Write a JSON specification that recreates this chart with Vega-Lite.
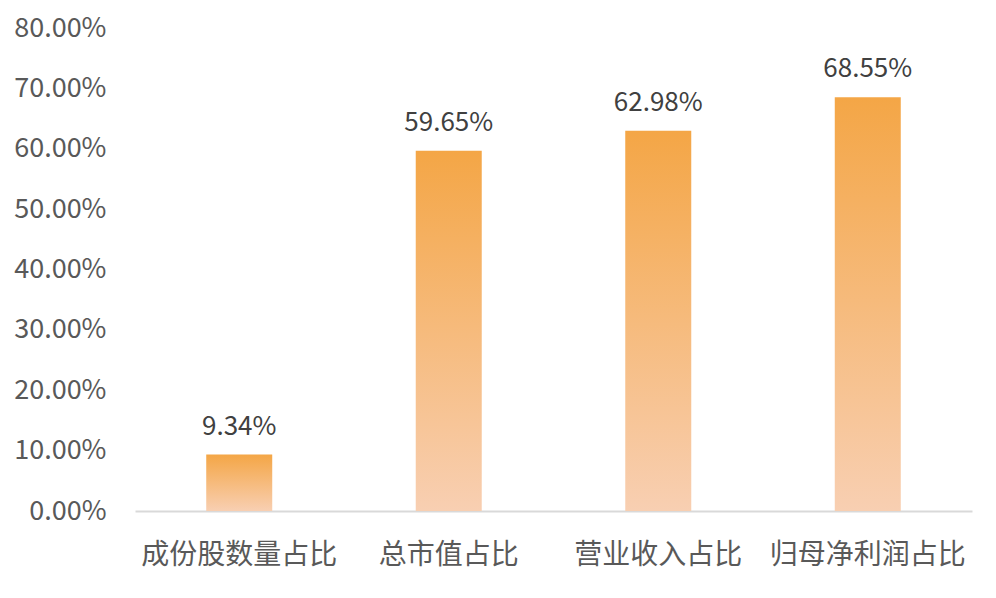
{
  "$schema": "https://vega.github.io/schema/vega-lite/v6.json",
  "width": 837,
  "height": 483,
  "autosize": {"type": "none"},
  "padding": {"left": 135, "top": 28, "right": 24, "bottom": 87},
  "background": "white",
  "data": {
    "values": [
      {"category": "成份股数量占比", "share": 0.0934},
      {"category": "总市值占比", "share": 0.5965},
      {"category": "营业收入占比", "share": 0.6298},
      {"category": "归母净利润占比", "share": 0.6855}
    ]
  },
  "encoding": {
    "x": {
      "field": "category",
      "type": "nominal",
      "sort": null,
      "title": null,
      "scale": {"paddingInner": 0.685, "paddingOuter": 0.34},
      "axis": {
        "labelAngle": 0,
        "labelFont": "Noto Sans CJK SC",
        "labelFontSize": 28,
        "labelColor": "#595959",
        "labelPadding": 30,
        "labelLimit": 0,
        "labelOverlap": false,
        "ticks": false,
        "domainColor": "#D9D9D9",
        "domainWidth": 2
      }
    },
    "y": {
      "field": "share",
      "type": "quantitative",
      "title": null,
      "scale": {"domain": [0, 0.8]},
      "axis": {
        "format": ".2%",
        "values": [0, 0.1, 0.2, 0.3, 0.4, 0.5, 0.6, 0.7, 0.8],
        "labelFont": "Noto Sans CJK SC",
        "labelFontSize": 27,
        "labelColor": "#595959",
        "labelPadding": 29,
        "labelOverlap": false,
        "labelBound": false,
        "ticks": false,
        "domain": false,
        "grid": false
      }
    }
  },
  "layer": [
    {
      "mark": {
        "type": "bar",
        "color": {
          "gradient": "linear",
          "x1": 0, "y1": 0, "x2": 0, "y2": 1,
          "stops": [
            {"offset": 0, "color": "#F4A646"},
            {"offset": 1, "color": "#F8CFB2"}
          ]
        }
      }
    },
    {
      "mark": {
        "type": "text",
        "baseline": "bottom",
        "dy": -15,
        "font": "Noto Sans CJK SC",
        "fontSize": 26,
        "color": "#404040"
      },
      "encoding": {
        "text": {"field": "share", "type": "quantitative", "format": ".2%"}
      }
    }
  ],
  "config": {"view": {"stroke": null}}
}
